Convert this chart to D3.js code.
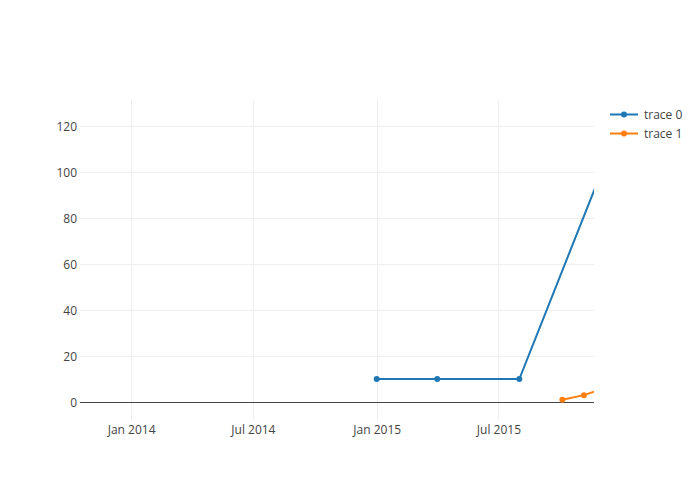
<!DOCTYPE html>
<html><head><meta charset="utf-8">
<script src="https://cdn.jsdelivr.net/npm/d3@7"></script>
<style>body{margin:0;background:#fff;} text{font-family:"Open Sans",sans-serif;}</style>
</head><body>
<svg id="c" width="700" height="500"></svg>
<script>
const trace0Dates = ["2015-01-01","2015-04-01","2015-08-01","2015-12-01"];
const trace0Values = [10,10,10,100];
const trace1Dates = ["2015-10-04","2015-11-05","2015-12-05"];
const trace1Values = [1,3,6];
const seriesNames = ["trace 0","trace 1"];
const colors = ["#1f77b4","#ff7f0e"];
const xTickDates = ["2014-01-01","2014-07-01","2015-01-01","2015-07-01"];
const yTicks = [0,20,40,60,80,100,120];
const xRange = ["2013-10-17","2015-11-20"];
const yRange = [-7.8,131.3];

const parse = d3.utcParse("%Y-%m-%d");
const fmt = d3.utcFormat("%b %Y");
const svg = d3.select("#c");
const L=80,R=594,T=100,B=420;
const x = d3.scaleUtc().domain(xRange.map(parse)).range([L,R]);
const y = d3.scaleLinear().domain(yRange).range([B,T]);
const crisp = v => Math.round(v) + 0.5;

svg.append("defs").append("clipPath").attr("id","clip")
  .append("rect").attr("x",L).attr("y",T).attr("width",R-L).attr("height",B-T);

// grid
const g = svg.append("g");
g.selectAll(".vx").data(xTickDates.map(parse)).enter().append("line")
  .attr("x1",d=>crisp(x(d))).attr("x2",d=>crisp(x(d))).attr("y1",T).attr("y2",B)
  .attr("stroke","#eee").attr("stroke-width",1);
g.selectAll(".hy").data(yTicks.filter(v=>v!==0)).enter().append("line")
  .attr("x1",L).attr("x2",R).attr("y1",d=>crisp(y(d))).attr("y2",d=>crisp(y(d)))
  .attr("stroke","#eee").attr("stroke-width",1);
g.append("line").attr("x1",L).attr("x2",R).attr("y1",crisp(y(0))).attr("y2",crisp(y(0)))
  .attr("stroke","#444").attr("stroke-width",1);

// axes labels
const xa = d3.axisBottom(x).tickValues(xTickDates.map(parse)).tickFormat(fmt).tickSize(0).tickPadding(5);
const xg = svg.append("g").attr("transform",`translate(0,${B})`).call(xa);
xg.select(".domain").remove();
xg.selectAll("text").attr("fill","#444").style("font-size","12px").style("font-family","'Open Sans',sans-serif");
const ya = d3.axisLeft(y).tickValues(yTicks).tickSize(0).tickPadding(3);
const yg = svg.append("g").attr("transform",`translate(${L},0.5)`).call(ya);
yg.select(".domain").remove();
yg.selectAll("text").attr("fill","#444").style("font-size","12px").style("font-family","'Open Sans',sans-serif");

// traces
const traces = [
  {dates:trace0Dates, values:trace0Values},
  {dates:trace1Dates, values:trace1Values}
];
const line = d3.line().x(d=>x(d[0])).y(d=>y(d[1]));
const plot = svg.append("g").attr("clip-path","url(#clip)");
traces.forEach((t,i)=>{
  const pts = t.dates.map((d,j)=>[parse(d),t.values[j]]);
  plot.append("path").datum(pts).attr("d",line).attr("fill","none")
    .attr("stroke",colors[i]).attr("stroke-width",2);
  plot.selectAll(".p"+i).data(pts).enter().append("circle")
    .attr("cx",d=>x(d[0])).attr("cy",d=>y(d[1])).attr("r",3).attr("fill",colors[i]);
});

// legend
const lg = svg.append("g");
seriesNames.forEach((n,i)=>{
  const yy = 114.5 + i*19;
  lg.append("line").attr("x1",610).attr("x2",638).attr("y1",yy).attr("y2",yy)
    .attr("stroke",colors[i]).attr("stroke-width",2);
  lg.append("circle").attr("cx",624).attr("cy",yy).attr("r",3).attr("fill",colors[i]);
  lg.append("text").attr("x",644).attr("y",yy).attr("dy","0.35em")
    .attr("fill","#444").style("font-size","12px").text(n);
});
</script>
</body></html>
